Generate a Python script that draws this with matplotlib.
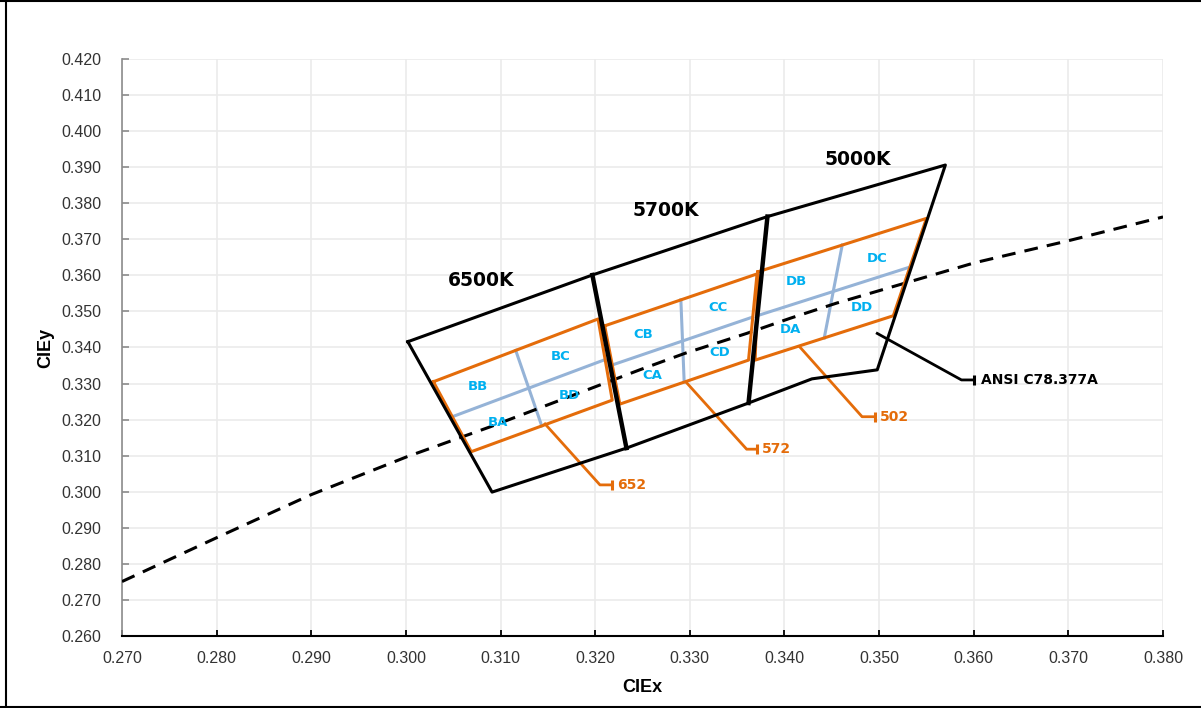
import matplotlib.pyplot as plt
from matplotlib.lines import Line2D

# outer ANSI C78.377A boundary for 6500K / 5700K / 5000K
outer_x = [0.3002, 0.3197, 0.3382, 0.3570, 0.3498, 0.3429, 0.3362, 0.3233, 0.3091, 0.3002]
outer_y = [0.3416, 0.3601, 0.3763, 0.3906, 0.3338, 0.3313, 0.3246, 0.3121, 0.2999, 0.3416]

# thick lines between the CCT regions
div_6500_x = [0.3197, 0.3233]
div_6500_y = [0.3601, 0.3121]
div_5700_x = [0.3382, 0.3362]
div_5700_y = [0.3763, 0.3246]

# bin quadrangles (TL, TR, BR, BL)
bin_names = ["652", "572", "502"]
bin_x = [[0.3029, 0.3203, 0.3218, 0.3069],
         [0.3210, 0.3371, 0.3362, 0.3226],
         [0.3372, 0.3550, 0.3515, 0.3369]]
bin_y = [[0.3305, 0.3479, 0.3254, 0.3111],
         [0.3460, 0.3604, 0.3365, 0.3243],
         [0.3610, 0.3758, 0.3488, 0.3365]]

# sub-bin names and where they are written
sub_names = ["BB", "BC", "BA", "BD", "CB", "CC", "CA", "CD", "DB", "DC", "DA", "DD"]
sub_x = [0.3076, 0.3163, 0.3097, 0.3173, 0.3251, 0.3330, 0.3260, 0.3332, 0.3413, 0.3498, 0.3406, 0.3482]
sub_y = [0.3293, 0.3374, 0.3191, 0.3266, 0.3435, 0.3512, 0.3321, 0.3385, 0.3582, 0.3648, 0.3451, 0.3512]

# blackbody locus
planck_x = [0.2700, 0.2802, 0.2899, 0.3001, 0.3089, 0.3247, 0.3295, 0.3360, 0.3406, 0.3455, 0.3601, 0.3700, 0.3800]
planck_y = [0.2751, 0.2875, 0.2991, 0.3097, 0.3180, 0.3338, 0.3384, 0.3439, 0.3481, 0.3523, 0.3635, 0.3696, 0.3762]

cct_labels = ["6500K", "5700K", "5000K"]
cct_x = [0.3079, 0.3275, 0.3477]
cct_y = [0.3587, 0.3779, 0.3920]

# callouts: start, elbow, end
leader_x = [[0.3147, 0.3205, 0.3218],
            [0.3297, 0.3360, 0.3371],
            [0.3416, 0.3482, 0.3496]]
leader_y = [[0.3188, 0.3019, 0.3019],
            [0.3301, 0.3118, 0.3118],
            [0.3402, 0.3208, 0.3208]]
ansi_x = [0.3498, 0.3587, 0.3600]
ansi_y = [0.3439, 0.3310, 0.3310]

orange = "#E46C0A"
blue = "#95B3D7"
cyan = "#00B0F0"

fig = plt.figure(figsize=(12.01, 7.08), dpi=100)
ax = fig.add_axes([0.1016, 0.1017, 0.8668, 0.8150])

ax.set_xlim(0.27, 0.38)
ax.set_ylim(0.26, 0.42)
ax.set_xticks([0.27 + 0.01 * i for i in range(12)])
ax.set_yticks([0.26 + 0.01 * i for i in range(17)])
ax.xaxis.set_major_formatter(plt.FormatStrFormatter("%.3f"))
ax.yaxis.set_major_formatter(plt.FormatStrFormatter("%.3f"))
ax.grid(True, color="#EBEBEB", lw=1.2, zorder=0)
ax.set_axisbelow(True)
for s in ["top", "right"]:
    ax.spines[s].set_visible(False)
ax.spines["left"].set_color("#8C8C8C")
ax.spines["left"].set_linewidth(1.2)
ax.spines["bottom"].set_color("black")
ax.spines["bottom"].set_linewidth(1.5)
ax.tick_params(axis="x", direction="in", length=4.5, width=1.3, color="black", pad=11,
               labelsize=11.5, labelcolor="#333333")
ax.tick_params(axis="y", direction="in", length=5, width=1.2, color="#8C8C8C", pad=15,
               labelsize=11.5, labelcolor="#333333")
for lab in ax.get_xticklabels() + ax.get_yticklabels():
    lab.set_family("Liberation Sans")

ax.set_xlabel("CIEx", fontsize=13, fontweight="bold", family="Liberation Sans", labelpad=9)
ax.set_ylabel("CIEy", fontsize=13, fontweight="bold", family="Liberation Sans", labelpad=5)

ax.plot(planck_x, planck_y, color="black", lw=2.2, linestyle=(0, (4.5, 3)), zorder=3)

# sub-bin dividers through edge midpoints
for bx, by in zip(bin_x, bin_y):
    lx, ly = (bx[0] + bx[3]) / 2, (by[0] + by[3]) / 2
    rx, ry = (bx[1] + bx[2]) / 2, (by[1] + by[2]) / 2
    tx, ty = (bx[0] + bx[1]) / 2, (by[0] + by[1]) / 2
    dx, dy = (bx[3] + bx[2]) / 2, (by[3] + by[2]) / 2
    ax.plot([lx, rx], [ly, ry], color=blue, lw=2.2, zorder=2)
    ax.plot([tx, dx], [ty, dy], color=blue, lw=2.2, zorder=2)

for bx, by in zip(bin_x, bin_y):
    ax.plot(bx + bx[:1], by + by[:1], color=orange, lw=2.2, zorder=4)

ax.plot(outer_x, outer_y, color="black", lw=2.2, zorder=5)
ax.plot(div_6500_x, div_6500_y, color="black", lw=3.2, zorder=5)
ax.plot(div_5700_x, div_5700_y, color="black", lw=3.2, zorder=5)

for name, x, y in zip(sub_names, sub_x, sub_y):
    ax.text(x, y, name, color=cyan, fontsize=9.5, fontweight="bold",
            ha="center", va="center", zorder=6)

for name, x, y in zip(cct_labels, cct_x, cct_y):
    ax.text(x, y, name, color="black", fontsize=13.5, fontweight="bold",
            ha="center", va="center", zorder=6)

for name, lx, ly in zip(bin_names, leader_x, leader_y):
    ax.plot(lx, ly, color=orange, lw=2, zorder=4)
    ax.plot(lx[-1], ly[-1], marker="|", ms=7, mew=2.2, color=orange, zorder=4)
    ax.text(lx[-1] + 0.0005, ly[-1], name, color=orange, fontsize=10,
            fontweight="bold", ha="left", va="center", zorder=6)

ax.plot(ansi_x, ansi_y, color="black", lw=2, zorder=5)
ax.plot(ansi_x[-1], ansi_y[-1], marker="|", ms=7, mew=2.2, color="black", zorder=5)
ax.text(ansi_x[-1] + 0.0008, ansi_y[-1], "ANSI C78.377A", color="black", fontsize=10,
        fontweight="bold", ha="left", va="center", zorder=6)

# frame around the whole figure
fig.add_artist(Line2D([5.5 / 1201, 5.5 / 1201], [0, 1], transform=fig.transFigure, color="black", lw=1.5))
fig.add_artist(Line2D([0, 1], [1 - 0.8 / 708, 1 - 0.8 / 708], transform=fig.transFigure, color="black", lw=1.5))
fig.add_artist(Line2D([0, 1], [1.2 / 708, 1.2 / 708], transform=fig.transFigure, color="black", lw=1.5))

fig.savefig("out.png", dpi=100)
